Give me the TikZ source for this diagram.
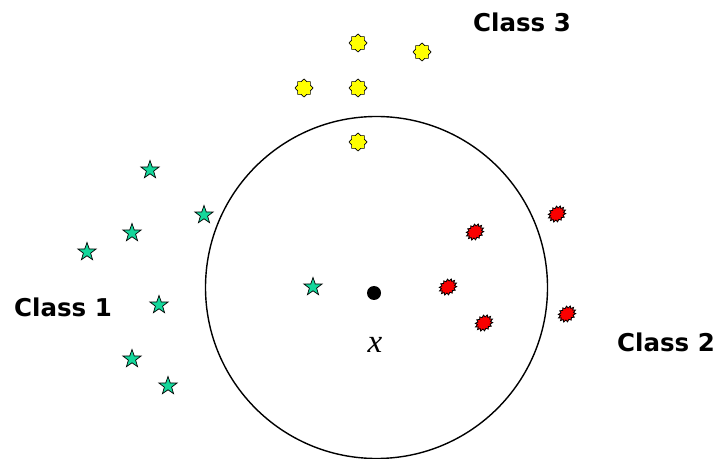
\documentclass[tikz,border=0pt]{standalone}
\usepackage{fontspec}
\setmainfont{DejaVu Sans}
\newfontfamily\tmsfont{Liberation Serif}
\usetikzlibrary{shapes.geometric}
\definecolor{cgreen}{RGB}{20,215,155}
\definecolor{cyellow}{RGB}{255,255,0}
\definecolor{cred}{RGB}{250,0,0}
\tikzset{
  greenstar/.style={star, star points=5, star point ratio=2.5, minimum size=19bp, inner sep=0pt, draw=black, line width=0.7bp, fill=cgreen},
  yellowstar/.style={star, star points=8, star point ratio=1.3, minimum size=18bp, inner sep=0pt, draw=black, line width=0.7bp, fill=cyellow},
  redblob/.style={star, star points=14, star point ratio=1.35, minimum size=15bp, inner sep=0pt, draw=black, line width=0.8bp, fill=cred, rotate=35, xscale=1.25},
  classlabel/.style={font=\fontsize{24.5bp}{28bp}\selectfont\bfseries, anchor=base, inner sep=0pt},
}
\begin{document}
\begin{tikzpicture}[x=1bp, y=-1bp]
\useasboundingbox (0,0) rectangle (719,459);
% big circle
\node[circle, draw, line width=1.4bp, minimum size=342bp, inner sep=0pt] (c) at (376.5,287.5) {};
% query point
\node[circle, fill=black, minimum size=14bp, inner sep=0pt] (x) at (374,293) {};
\node[font=\fontsize{33bp}{35bp}\selectfont\tmsfont\itshape, inner sep=0pt] (xl) at (375,345) {x};
% class 1 (green stars)
\node[greenstar] (g1) at (150,170) {};
\node[greenstar] (g2) at (204,215) {};
\node[greenstar] (g3) at (132,233) {};
\node[greenstar] (g4) at (87,252) {};
\node[greenstar] (g5) at (159,305) {};
\node[greenstar] (g6) at (132,359) {};
\node[greenstar] (g7) at (168,386) {};
\node[greenstar] (g8) at (313,287) {};
% class 3 (yellow)
\node[yellowstar] (y1) at (358,43) {};
\node[yellowstar] (y2) at (422,52) {};
\node[yellowstar] (y3) at (304,88) {};
\node[yellowstar] (y4) at (358,88) {};
\node[yellowstar] (y5) at (358,142) {};
% class 2 (red)
\node[redblob] (r1) at (557,214) {};
\node[redblob] (r2) at (475,232) {};
\node[redblob] (r3) at (448,287) {};
\node[redblob] (r4) at (484,323) {};
\node[redblob] (r5) at (567,314) {};
% labels
\node[classlabel] (l3) at (522,31.5) {Class 3};
\node[classlabel] (l1) at (63,316.5) {Class 1};
\node[classlabel] (l2) at (666,352) {Class 2};
\end{tikzpicture}
\end{document}
